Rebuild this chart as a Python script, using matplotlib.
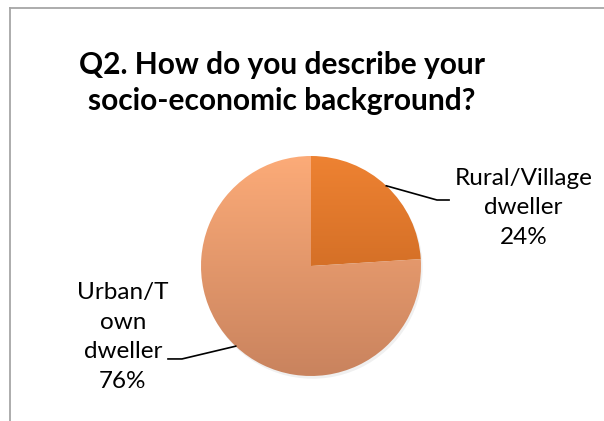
import numpy as np
import matplotlib
matplotlib.use("Agg")
import matplotlib.pyplot as plt
from matplotlib.colors import LinearSegmentedColormap
from matplotlib.patches import Wedge

title = "Q2. How do you describe your\nsocio-economic background?"
categories = ["Rural/Village\ndweller", "Urban/T\nown\ndweller"]
values = [24, 76]
top_colors = ["#EE8232", "#FCAB78"]
bottom_colors = ["#BC5E1C", "#C9835E"]

W, H = 604, 421
fig = plt.figure(figsize=(W / 100, H / 100), dpi=100)
fig.patch.set_facecolor("white")

# pie: center (311,266) px, radius 110 px -> axes in units of radius
cx, cy, R = 311, 266, 110
ax = fig.add_axes([0, 0, 1, 1])
ax.axis("off")

# frame (left and top edges visible)
fig.add_artist(plt.Line2D([10 / W, 10 / W], [0, 1 - 8 / H], transform=fig.transFigure,
                          color="#A6A6A6", lw=1.3))
fig.add_artist(plt.Line2D([10 / W, 1], [1 - 8 / H, 1 - 8 / H], transform=fig.transFigure,
                          color="#A6A6A6", lw=1.3))

fig.text(282 / W, 1 - 83 / H, title, ha="center", va="center", fontsize=21.5,
         fontweight="bold", family="Lato", linespacing=1.35)

total = sum(values)
start = 90.0
grad = np.linspace(1, 0, 256).reshape(-1, 1)
mids = []
for v, c_top, c_bot in zip(values, top_colors, bottom_colors):
    ang = v / total * 360
    t1, t2 = start - ang, start
    sh = Wedge((0.015, -0.025), 1.0, t1, t2, facecolor="#000000", alpha=0.06, lw=0)
    ax.add_patch(sh)
    w = Wedge((0, 0), 1.0, t1, t2, facecolor="none", lw=0)
    ax.add_patch(w)
    cmap = LinearSegmentedColormap.from_list("g", [c_bot, c_top])
    im = ax.imshow(grad, cmap=cmap, extent=[-1, 1, -1, 1], aspect="auto",
                   origin="upper", vmin=0, vmax=1, zorder=2)
    im.set_clip_path(w)
    mids.append(np.deg2rad((t1 + t2) / 2))
    start = t1
ax.set_xlim(-cx / R, (W - cx) / R)
ax.set_ylim(-(H - cy) / R, cy / R)

pct = [f"{round(v / total * 100)}%" for v in values]
label_pos = [(1.93, 0.53), (-1.71, -0.645)]
elbows = [((1.145, 0.60), (1.255, 0.60)), ((-1.173, -0.845), (-1.30, -0.845))]
for cat, p, m, (lx, ly), (e1, e2) in zip(categories, pct, mids, label_pos, elbows):
    ax.text(lx, ly, f"{cat}\n{p}", ha="center", va="center", fontsize=17.5,
            family="Lato", linespacing=1.5, zorder=5)
    x0, y0 = np.cos(m), np.sin(m)
    ax.plot([x0, e1[0], e2[0]], [y0, e1[1], e2[1]], color="black", lw=1.2, zorder=4)

fig.savefig("out.png", dpi=100)
